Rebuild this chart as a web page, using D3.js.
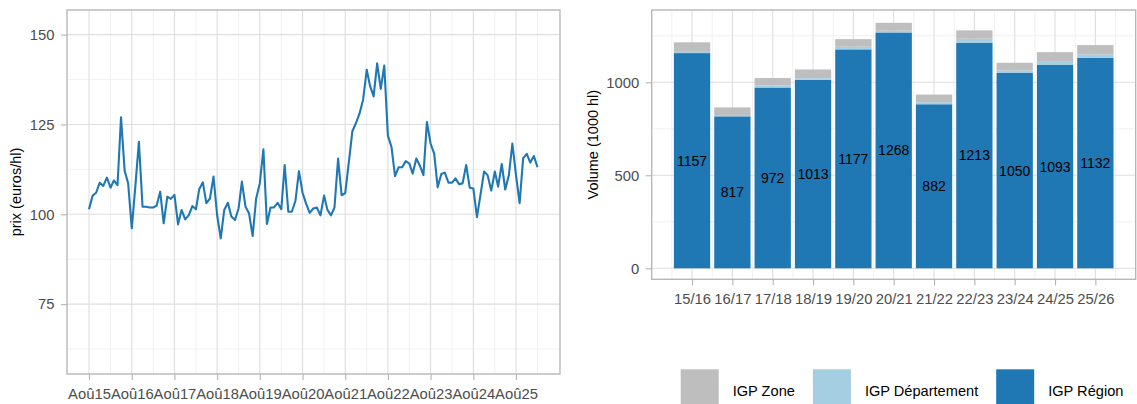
<!DOCTYPE html>
<html>
<head>
<meta charset="utf-8">
<script src="https://cdn.jsdelivr.net/npm/d3@7"></script>
<style>
  html, body { margin: 0; padding: 0; background: #fff; }
  svg { display: block; font-family: "Liberation Sans", Arial, sans-serif; }
</style>
</head>
<body>
<svg id="chart" width="1137" height="404"></svg>
<script>
// ---------------- DATA ----------------
// Monthly price series, first point = August 2015 (one value per month)
const priceStartMonth = "2015-08";
const prices = [
  101.4, 105.2, 106.0, 108.8, 107.9, 110.2, 107.4, 109.4, 108.1, 127.0, 112.1, 108.6,
  96.1, 108.0, 120.2, 102.1, 102.1, 101.9, 101.9, 102.4, 106.3, 97.5, 104.9, 104.3,
  105.4, 97.2, 101.2, 98.6, 99.7, 102.3, 101.4, 107.0, 108.9, 103.1, 104.4, 110.5,
  99.8, 93.3, 101.2, 103.2, 99.4, 98.4, 101.7, 109.1, 102.1, 100.3, 94.0, 104.4,
  108.6, 118.1, 97.3, 101.9, 101.9, 103.2, 101.4, 113.7, 100.7, 100.7, 103.7, 112.0,
  106.0, 102.9, 100.4, 101.6, 101.9, 99.7, 105.2, 101.3, 99.7, 101.9, 115.5, 105.3,
  105.9, 114.5, 123.1, 125.4, 128.0, 131.9, 140.2, 135.8, 132.8, 142.0, 134.9, 141.4,
  121.9, 118.7, 110.6, 113.1, 113.1, 114.8, 114.1, 111.3, 115.5, 113.6, 110.9, 125.7,
  119.7, 116.9, 107.5, 111.2, 111.6, 108.8, 108.8, 110.0, 108.4, 108.6, 113.7, 107.4,
  107.2, 99.2, 105.4, 111.9, 110.9, 106.6, 111.9, 107.7, 114.0, 106.9, 110.9, 119.7,
  110.9, 103.1, 115.6, 116.8, 114.4, 116.2, 113.1
];
const priceYTicks = [75, 100, 125, 150];
const priceXTickYears = [2015, 2016, 2017, 2018, 2019, 2020, 2021, 2022, 2023, 2024, 2025];
const priceXTickLabels = ["Aoû15","Aoû16","Aoû17","Aoû18","Aoû19","Aoû20","Aoû21","Aoû22","Aoû23","Aoû24","Aoû25"];

const campaigns = ["15/16","16/17","17/18","18/19","19/20","20/21","21/22","22/23","23/24","24/25","25/26"];
const igpRegion = [1157, 817, 972, 1013, 1177, 1268, 882, 1213, 1050, 1093, 1132];
const igpDepartement = [11, 7, 11, 9, 14, 9, 11, 21, 14, 21, 18];
const igpZone = [47, 41, 40, 47, 41, 43, 41, 45, 41, 48, 50];
const volumeYTicks = [0, 500, 1000];
const seriesNames = ["IGP Zone", "IGP Département", "IGP Région"];

// ---------------- STYLE ----------------
const colZone = "#BEBEBE", colDept = "#A6CEE3", colRegion = "#1F78B4";
const gridMajor = "#DEDEDE", gridMinor = "#EDEDED", borderCol = "#B3B3B3", tickTextCol = "#4D4D4D";
const FONT = "Liberation Sans, Arial, sans-serif";
const tickFS = 14.8;

const svg = d3.select("#chart");

// ================= LEFT PANEL: price line =================
const L = {left: 67, right: 560, top: 10, bottom: 374};
const parseMonth = d3.timeParse("%Y-%m");
const start = parseMonth(priceStartMonth);
const priceData = prices.map((v, i) => ({date: d3.timeMonth.offset(start, i), value: v}));

const xL = d3.scaleTime()
  .domain([new Date(2015, 7, 1), new Date(2025, 7, 1)])
  .range([89, 516]);
const yL = d3.scaleLinear().domain([100, 150]).range([214.3, 34.6]);

const gL = svg.append("g");
const yMinorL = [62.5, 87.5, 112.5, 137.5];
gL.selectAll(".yminL").data(yMinorL).join("line")
  .attr("x1", L.left).attr("x2", L.right)
  .attr("y1", d => yL(d)).attr("y2", d => yL(d))
  .attr("stroke", gridMinor).attr("stroke-width", 0.8);
const xMinorL = d3.range(2015, 2027).map(y => new Date(y, 1, 1))
  .filter(d => xL(d) > L.left + 1 && xL(d) < L.right - 1);
gL.selectAll(".xminL").data(xMinorL).join("line")
  .attr("x1", d => xL(d)).attr("x2", d => xL(d))
  .attr("y1", L.top).attr("y2", L.bottom)
  .attr("stroke", gridMinor).attr("stroke-width", 0.8);
gL.selectAll(".ymajL").data(priceYTicks).join("line")
  .attr("x1", L.left).attr("x2", L.right)
  .attr("y1", d => yL(d)).attr("y2", d => yL(d))
  .attr("stroke", gridMajor).attr("stroke-width", 1.1);
const xTickDates = priceXTickYears.map(y => new Date(y, 7, 1));
gL.selectAll(".xmajL").data(xTickDates).join("line")
  .attr("x1", d => xL(d)).attr("x2", d => xL(d))
  .attr("y1", L.top).attr("y2", L.bottom)
  .attr("stroke", gridMajor).attr("stroke-width", 1.1);

const line = d3.line().x(d => xL(d.date)).y(d => yL(d.value));
gL.append("path").datum(priceData)
  .attr("d", line).attr("fill", "none")
  .attr("stroke", colRegion).attr("stroke-width", 2.1)
  .attr("stroke-linejoin", "round").attr("stroke-linecap", "butt");

gL.append("rect").attr("x", L.left).attr("y", L.top)
  .attr("width", L.right - L.left).attr("height", L.bottom - L.top)
  .attr("fill", "none").attr("stroke", borderCol).attr("stroke-width", 1.3);

const axLeftL = d3.axisLeft(yL).tickValues(priceYTicks).tickFormat(d3.format("d")).tickSize(6).tickPadding(6.5);
const gyL = gL.append("g").attr("transform", `translate(${L.left},0)`).call(axLeftL);
const axBottomL = d3.axisBottom(xL).tickValues(xTickDates)
  .tickFormat((d, i) => priceXTickLabels[i]).tickSize(6).tickPadding(8);
const gxL = gL.append("g").attr("transform", `translate(0,${L.bottom})`).call(axBottomL);
[gyL, gxL].forEach(g => {
  g.select(".domain").remove();
  g.selectAll(".tick line").attr("stroke", borderCol).attr("stroke-width", 1.1);
  g.selectAll(".tick text").attr("fill", tickTextCol).attr("font-size", tickFS)
    .attr("font-family", FONT);
});

gL.append("text")
  .attr("transform", `translate(21,${(L.top + L.bottom) / 2}) rotate(-90)`)
  .attr("text-anchor", "middle").attr("font-size", 14.5).attr("fill", "#000")
  .text("prix (euros/hl)");

// ================= RIGHT PANEL: stacked bars =================
const R = {left: 651.7, right: 1135.7, top: 10, bottom: 279.3};
const xR = d3.scaleLinear().domain([0, campaigns.length + 1]).range([R.left, R.right]);
const yR = d3.scaleLinear().domain([0, 1000]).range([268.3, 82.3]);
const barW = (xR(1) - xR(0)) * 0.9;

const gR = svg.append("g");
const yMinorR = [250, 750, 1250];
gR.selectAll(".yminR").data(yMinorR).join("line")
  .attr("x1", R.left).attr("x2", R.right)
  .attr("y1", d => yR(d)).attr("y2", d => yR(d))
  .attr("stroke", gridMinor).attr("stroke-width", 0.8);
const xMinorR = d3.range(0.5, campaigns.length + 1, 1);
gR.selectAll(".xminR").data(xMinorR).join("line")
  .attr("x1", d => xR(d)).attr("x2", d => xR(d))
  .attr("y1", R.top).attr("y2", R.bottom)
  .attr("stroke", gridMinor).attr("stroke-width", 0.8);
gR.selectAll(".ymajR").data(volumeYTicks).join("line")
  .attr("x1", R.left).attr("x2", R.right)
  .attr("y1", d => yR(d)).attr("y2", d => yR(d))
  .attr("stroke", gridMajor).attr("stroke-width", 1.1);
gR.selectAll(".xmajR").data(campaigns).join("line")
  .attr("x1", (d, i) => xR(i + 1)).attr("x2", (d, i) => xR(i + 1))
  .attr("y1", R.top).attr("y2", R.bottom)
  .attr("stroke", gridMajor).attr("stroke-width", 1.1);

const table = campaigns.map((c, i) => ({
  camp: c, idx: i + 1,
  region: igpRegion[i], dept: igpDepartement[i], zone: igpZone[i]
}));
const stack = d3.stack().keys(["region", "dept", "zone"])(table);
const colorOf = {region: colRegion, dept: colDept, zone: colZone};
stack.forEach(layer => {
  gR.selectAll(".bar-" + layer.key).data(layer).join("rect")
    .attr("x", d => xR(d.data.idx) - barW / 2)
    .attr("width", barW)
    .attr("y", d => yR(d[1]))
    .attr("height", d => yR(d[0]) - yR(d[1]))
    .attr("fill", colorOf[layer.key]);
});

gR.selectAll(".lbl").data(table).join("text")
  .attr("x", d => xR(d.idx))
  .attr("y", d => yR(d.region / 2) + 5)
  .attr("text-anchor", "middle").attr("font-size", 14).attr("fill", "#000")
  .text(d => d.region);

gR.append("rect").attr("x", R.left).attr("y", R.top)
  .attr("width", R.right - R.left).attr("height", R.bottom - R.top)
  .attr("fill", "none").attr("stroke", borderCol).attr("stroke-width", 1.3);

const axLeftR = d3.axisLeft(yR).tickValues(volumeYTicks).tickFormat(d3.format("d")).tickSize(6).tickPadding(6.5);
const gyR = gR.append("g").attr("transform", `translate(${R.left},0)`).call(axLeftR);
const axBottomR = d3.axisBottom(xR).tickValues(d3.range(1, campaigns.length + 1))
  .tickFormat(d => campaigns[d - 1]).tickSize(6).tickPadding(8);
const gxR = gR.append("g").attr("transform", `translate(0,${R.bottom})`).call(axBottomR);
[gyR, gxR].forEach(g => {
  g.select(".domain").remove();
  g.selectAll(".tick line").attr("stroke", borderCol).attr("stroke-width", 1.1);
  g.selectAll(".tick text").attr("fill", tickTextCol).attr("font-size", tickFS)
    .attr("font-family", FONT);
});

gR.append("text")
  .attr("transform", `translate(598,${(R.top + R.bottom) / 2}) rotate(-90)`)
  .attr("text-anchor", "middle").attr("font-size", 14.5).attr("fill", "#000")
  .text("Volume (1000 hl)");

// ================= LEGEND =================
const legendColors = [colZone, colDept, colRegion];
const gLeg = svg.append("g");
let lx = 680.7;
seriesNames.forEach((name, i) => {
  gLeg.append("rect").attr("x", lx).attr("y", 369.3)
    .attr("width", 38).attr("height", 38).attr("fill", legendColors[i]);
  const t = gLeg.append("text").attr("x", lx + 38 + 14).attr("y", 395.5)
    .attr("font-size", 14.6).attr("fill", "#000").text(name);
  const w = t.node().getComputedTextLength();
  lx = lx + 38 + 14 + w + 18;
});
</script>
</body>
</html>
